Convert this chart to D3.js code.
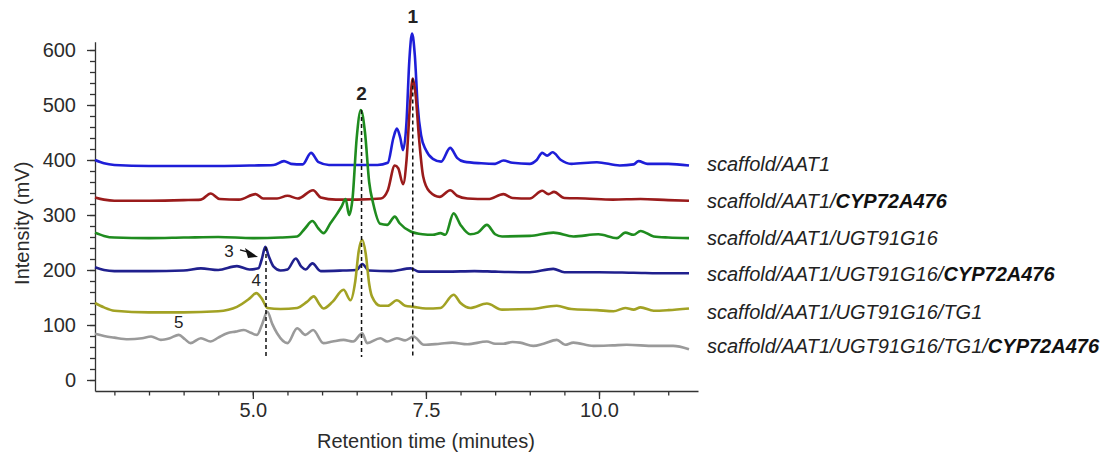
<!DOCTYPE html>
<html>
<head>
<meta charset="utf-8">
<script src="https://cdn.jsdelivr.net/npm/d3@7"></script>
<style>
  html, body { margin: 0; padding: 0; background: #fff; }
  svg { display: block; font-family: "Liberation Sans", Arial, sans-serif; }
  .axis path, .axis line { stroke: #333; stroke-width: 1.3; }
  .axis text { fill: #2b2b2b; font-size: 20px; }
</style>
</head>
<body>
<svg id="chart" width="1109" height="454"></svg>
<script>
// ── Data: [retention time (min), intensity (mV)] ──
const aat1 = [
  [2.72, 400], [2.85, 394], [3.0, 391], [3.5, 389], [4.0, 389], [4.5, 389], [5.0, 390],
  [5.3, 391], [5.45, 398], [5.55, 393], [5.72, 392], [5.84, 413], [5.95, 396], [6.1, 391],
  [6.5, 391], [6.8, 391], [6.95, 395], [7.03, 440], [7.08, 457], [7.13, 440], [7.17, 418],
  [7.22, 470], [7.26, 580], [7.30, 630], [7.34, 590], [7.38, 500], [7.43, 445], [7.5, 418],
  [7.6, 402], [7.72, 397], [7.85, 422], [7.95, 404], [8.05, 397], [8.3, 394], [8.5, 393],
  [8.62, 399], [8.75, 395], [9.0, 393], [9.1, 400], [9.18, 413], [9.25, 408], [9.33, 414],
  [9.45, 400], [9.6, 393], [9.97, 396], [10.3, 390], [10.5, 392], [10.57, 398], [10.7, 393],
  [11.0, 393], [11.3, 390]
];
const aat1Cyp = [
  [2.72, 332], [2.85, 328], [3.0, 326], [3.5, 326], [4.0, 327], [4.25, 328], [4.39, 339],
  [4.52, 329], [4.8, 328], [5.04, 338], [5.15, 330], [5.35, 330], [5.5, 335], [5.65, 330],
  [5.87, 345], [5.98, 332], [6.2, 328], [6.5, 328], [6.85, 330], [6.95, 345], [7.05, 390],
  [7.1, 385], [7.17, 356], [7.22, 400], [7.27, 500], [7.31, 548], [7.35, 520], [7.4, 440],
  [7.46, 370], [7.55, 343], [7.7, 333], [7.85, 345], [7.95, 335], [8.1, 330], [8.4, 329],
  [8.62, 338], [8.75, 331], [9.0, 330], [9.18, 344], [9.27, 338], [9.35, 342], [9.5, 331],
  [9.8, 330], [10.2, 328], [10.6, 329], [11.0, 327], [11.3, 326]
];
const aat1Ugt = [
  [2.72, 268], [2.85, 262], [3.0, 259], [3.5, 258], [4.0, 259], [4.5, 260], [5.0, 258],
  [5.4, 259], [5.64, 261], [5.75, 275], [5.86, 289], [5.95, 275], [6.02, 267], [6.12, 285],
  [6.22, 303], [6.28, 315], [6.34, 329], [6.39, 300], [6.44, 330], [6.5, 440], [6.56, 491],
  [6.62, 450], [6.68, 360], [6.74, 320], [6.84, 284], [6.94, 282], [7.05, 297], [7.12, 285],
  [7.28, 270], [7.45, 265], [7.6, 264], [7.71, 267], [7.78, 264], [7.9, 303], [8.0, 282],
  [8.14, 265], [8.25, 268], [8.38, 282], [8.5, 265], [8.6, 261], [9.0, 262], [9.34, 268],
  [9.63, 261], [9.99, 265], [10.26, 258], [10.38, 268], [10.5, 264], [10.6, 271],
  [10.79, 261], [11.0, 259], [11.3, 258]
];
const aat1UgtCyp = [
  [2.72, 205], [2.85, 200], [3.0, 198], [3.5, 198], [4.0, 199], [4.25, 203], [4.5, 200],
  [4.77, 207], [4.95, 201], [5.08, 203], [5.13, 220], [5.18, 242], [5.23, 225], [5.3, 206],
  [5.4, 199], [5.5, 201], [5.62, 221], [5.7, 206], [5.76, 201], [5.86, 212], [5.98, 198],
  [6.3, 199], [6.5, 200], [6.58, 211], [6.68, 199], [7.0, 198], [7.28, 203], [7.4, 197],
  [7.8, 197], [8.2, 198], [8.5, 197], [9.0, 196], [9.34, 202], [9.5, 196], [10.0, 196],
  [10.5, 195], [11.0, 194], [11.3, 194]
];
const aat1UgtTg1 = [
  [2.72, 140], [2.85, 132], [3.0, 126], [3.5, 123], [4.0, 123], [4.5, 125], [4.77, 133],
  [4.95, 148], [5.05, 158], [5.13, 148], [5.21, 131], [5.4, 129], [5.64, 131], [5.78, 142],
  [5.88, 152], [5.96, 138], [6.02, 130], [6.15, 142], [6.31, 164], [6.41, 145], [6.48, 180],
  [6.53, 235], [6.58, 255], [6.63, 230], [6.68, 175], [6.72, 152], [6.84, 135], [6.95, 135],
  [7.08, 145], [7.2, 135], [7.32, 133], [7.5, 130], [7.71, 131], [7.9, 155], [8.0, 140],
  [8.14, 131], [8.38, 139], [8.6, 128], [9.0, 129], [9.39, 135], [9.6, 129], [9.97, 127],
  [10.21, 125], [10.38, 131], [10.5, 128], [10.6, 132], [10.79, 126], [11.0, 127], [11.3, 130]
];
const aat1UgtTg1Cyp = [
  [2.72, 84], [2.85, 80], [3.0, 77], [3.2, 74], [3.4, 76], [3.53, 79], [3.67, 73], [3.8, 76],
  [3.93, 82], [4.02, 74], [4.1, 67], [4.25, 76], [4.39, 70], [4.5, 77], [4.63, 85], [4.75, 88],
  [4.87, 91], [4.97, 86], [5.06, 82], [5.13, 100], [5.21, 124], [5.28, 102], [5.35, 85],
  [5.5, 67], [5.64, 94], [5.76, 82], [5.87, 91], [6.02, 67], [6.15, 70], [6.31, 73], [6.45, 70],
  [6.58, 85], [6.65, 67], [6.84, 76], [6.94, 70], [7.08, 76], [7.2, 72], [7.32, 79], [7.47, 64],
  [7.7, 66], [7.88, 68], [8.1, 65], [8.38, 70], [8.5, 66], [8.62, 66], [8.75, 69], [8.86, 68],
  [9.05, 62], [9.2, 66], [9.39, 73], [9.51, 64], [9.63, 68], [9.92, 62], [10.2, 63], [10.4, 64],
  [10.8, 62], [11.07, 62], [11.3, 56]
];

// legend: plain (italic) part + bold part
const seriesNames = [
  ['scaffold/AAT1', ''],
  ['scaffold/AAT1/', 'CYP72A476'],
  ['scaffold/AAT1/UGT91G16', ''],
  ['scaffold/AAT1/UGT91G16/', 'CYP72A476'],
  ['scaffold/AAT1/UGT91G16/TG1', ''],
  ['scaffold/AAT1/UGT91G16/TG1/', 'CYP72A476']
];
const seriesData = [aat1, aat1Cyp, aat1Ugt, aat1UgtCyp, aat1UgtTg1, aat1UgtTg1Cyp];
const seriesColors = ['#1e1ed8', '#9a1b1b', '#1f8c1f', '#20208e', '#a2a224', '#9a9a9a'];
const legendValues = [392, 325, 258, 192, 124, 61];   // vertical anchor of each label

// marked peaks: [label, time, top intensity]
const peaks = [['1', 7.31, 548], ['2', 6.57, 491], ['3', 5.19, 242]];
const peakLabels = [['1', 7.31, 631], ['2', 6.57, 491], ['4', 5.05, 158], ['5', 3.93, 82]];

const xMajor = [5.0, 7.5, 10.0];
const xMinor = d3.range(3.0, 11.01, 0.5);
const yMajor = [0, 100, 200, 300, 400, 500, 600];
const yMinor = d3.range(0, 601, 20);

// ── Layout ──
const svg = d3.select('#chart');
const x = d3.scaleLinear().domain([2.72, 11.43]).range([95, 698]);
const y = d3.scaleLinear().domain([-20, 615]).range([391, 41.75]);

// ── Axes ──
svg.append('g').attr('class', 'axis')
  .attr('transform', 'translate(0,391)')
  .call(d3.axisBottom(x).tickValues(xMinor).tickSize(4.5).tickSizeOuter(0).tickFormat(''));
svg.append('g').attr('class', 'axis')
  .attr('transform', 'translate(0,391)')
  .call(d3.axisBottom(x).tickValues(xMajor).tickSize(8).tickSizeOuter(0).tickPadding(4)
    .tickFormat(d3.format('.1f')))
  .call(g => g.select('.domain').remove());

svg.append('g').attr('class', 'axis')
  .attr('transform', 'translate(95,0)')
  .call(d3.axisLeft(y).tickValues(yMinor).tickSize(5).tickSizeOuter(0).tickFormat(''));
svg.append('g').attr('class', 'axis')
  .attr('transform', 'translate(95,0)')
  .call(d3.axisLeft(y).tickValues(yMajor).tickSize(8).tickPadding(11))
  .call(g => g.select('.domain').remove());

svg.append('text')
  .attr('x', x(7.5)).attr('y', 448)
  .attr('text-anchor', 'middle').attr('font-size', 20).attr('fill', '#2b2b2b')
  .text('Retention time (minutes)');
svg.append('text')
  .attr('transform', 'rotate(-90)')
  .attr('x', -y(285)).attr('y', 29)
  .attr('text-anchor', 'middle').attr('font-size', 20).attr('fill', '#2b2b2b')
  .text('Intensity (mV)');

// ── Traces ──
const line = d3.line().x(d => x(d[0])).y(d => y(d[1])).curve(d3.curveMonotoneX);
seriesData.forEach((s, i) => {
  svg.append('path')
    .datum(s)
    .attr('fill', 'none')
    .attr('stroke', seriesColors[i])
    .attr('stroke-width', 2.6)
    .attr('stroke-linejoin', 'round')
    .attr('d', line);
});

// ── Dashed markers ──
peaks.forEach(p => {
  svg.append('line')
    .attr('x1', x(p[1])).attr('x2', x(p[1]))
    .attr('y1', y(p[2])).attr('y2', y(42))
    .attr('stroke', '#111').attr('stroke-width', 1.5)
    .attr('stroke-dasharray', '4 3');
});

// ── Peak labels ──
peakLabels.forEach(p => {
  const big = p[0] === '1' || p[0] === '2';
  svg.append('text')
    .attr('x', x(p[1])).attr('y', y(p[2]) - (big ? 10 : 7))
    .attr('text-anchor', 'middle')
    .attr('font-size', big ? 19 : 17)
    .attr('font-weight', big ? 'bold' : 'normal')
    .attr('fill', '#222')
    .text(p[0]);
});

// label 3 with arrow
const p3x = x(5.19), p3y = y(242);
svg.append('text')
  .attr('x', p3x - 37).attr('y', p3y + 10)
  .attr('text-anchor', 'middle').attr('font-size', 17).attr('fill', '#222')
  .text('3');
svg.append('line')
  .attr('x1', p3x - 26).attr('y1', p3y + 3)
  .attr('x2', p3x - 15).attr('y2', p3y + 6)
  .attr('stroke', '#111').attr('stroke-width', 1.2);
svg.append('path')
  .attr('d', `M${p3x - 8},${p3y + 10} L${p3x - 21},${p3y + 1} L${p3x - 18},${p3y + 11} Z`)
  .attr('fill', '#111');

// ── Series labels ──
seriesNames.forEach((n, i) => {
  const t = svg.append('text')
    .attr('x', 707).attr('y', y(legendValues[i]))
    .attr('dy', '0.35em')
    .attr('font-size', 20).attr('font-style', 'italic').attr('fill', '#222');
  t.append('tspan').text(n[0]);
  if (n[1]) t.append('tspan').attr('font-weight', 'bold').attr('fill', '#111').text(n[1]);
});
</script>
</body>
</html>
